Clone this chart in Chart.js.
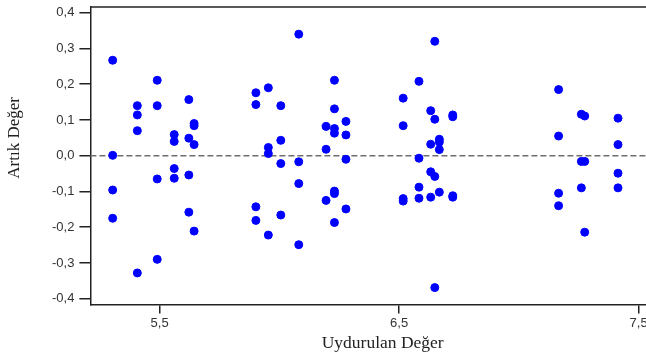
<!DOCTYPE html>
<html>
<head>
<meta charset="utf-8">
<script src="https://cdn.jsdelivr.net/npm/chart.js@4"></script>
<style>
  html, body { margin: 0; padding: 0; background: #fff; overflow: hidden; }
  #wrap { width: 680px; height: 360px; }
</style>
</head>
<body>
<div id="wrap"><canvas id="grafik"></canvas></div>
<script>
// uydurulan degerler (x) ve artiklar (y), sutun sutun
const fitted = [
  5.304, 5.304, 5.304, 5.304,
  5.407, 5.407, 5.407, 5.407,
  5.490, 5.490, 5.490, 5.490,
  5.561, 5.561, 5.561, 5.561,
  5.622, 5.622, 5.622, 5.622,
  5.644, 5.644, 5.644, 5.644,
  5.902, 5.902, 5.902, 5.902,
  5.954, 5.954, 5.954, 5.954,
  6.006, 6.006, 6.006, 6.006,
  6.081, 6.081, 6.081, 6.081,
  6.195, 6.195, 6.195,
  6.230, 6.230, 6.230, 6.230, 6.230, 6.230, 6.230,
  6.278, 6.278, 6.278, 6.278,
  6.517, 6.517, 6.517, 6.517,
  6.583, 6.583, 6.583, 6.583,
  6.632, 6.632, 6.632, 6.632,
  6.649, 6.649, 6.649, 6.649,
  6.668, 6.668, 6.668, 6.668,
  6.724, 6.724, 6.724, 6.724,
  7.166, 7.166, 7.166, 7.166,
  7.261, 7.261, 7.261,
  7.275, 7.275, 7.275,
  7.414, 7.414, 7.414, 7.414
]
const residuals = [
  0.267, 0.001, -0.096, -0.175,
  0.140, 0.114, 0.070, -0.328,
  0.211, 0.140, -0.065, -0.290,
  0.059, 0.040, -0.036, -0.063,
  0.157, 0.049, -0.054, -0.158,
  0.090, 0.084, 0.031, -0.211,
  0.176, 0.143, -0.143, -0.181,
  0.190, 0.023, 0.006, -0.222,
  0.140, 0.043, -0.022, -0.166,
  0.340, -0.017, -0.078, -0.249,
  0.082, 0.018, -0.125,
  0.211, 0.131, 0.076, 0.063, -0.099, -0.106, -0.187,
  0.096, 0.058, -0.010, -0.149,
  0.161, 0.084, -0.120, -0.127,
  0.208, -0.007, -0.088, -0.119,
  0.126, 0.032, -0.045, -0.116,
  0.320, 0.102, -0.058, -0.369,
  0.046, 0.038, 0.017, -0.102,
  0.114, 0.109, -0.112, -0.116,
  0.185, 0.055, -0.105, -0.140,
  0.116, -0.016, -0.090,
  0.111, -0.016, -0.214,
  0.105, 0.031, -0.049, -0.090
]
const xTicks = [5.5, 6.5, 7.5]
const yTicks = [-0.4, -0.3, -0.2, -0.1, 0, 0.1, 0.2, 0.3, 0.4]
const yBaslik = 'Artık Değer'
const xBaslik = 'Uydurulan Değer'

const virgul = v => v.toFixed(1).replace('.', ',')

// sifir cizgisi, ust kenar ve dikey eksen basligi
const ekstra = {
  id: 'ekstra',
  beforeDatasetsDraw(chart) {
    const { ctx, chartArea, scales } = chart
    const y0 = scales.y.getPixelForValue(0)
    ctx.save()
    ctx.strokeStyle = '#6e6e6e'
    ctx.lineWidth = 1.5
    ctx.setLineDash([6, 3])
    ctx.beginPath()
    ctx.moveTo(chartArea.left, y0)
    ctx.lineTo(chartArea.right, y0)
    ctx.stroke()
    ctx.setLineDash([])
    ctx.strokeStyle = '#222'
    ctx.beginPath()
    ctx.moveTo(chartArea.left, chartArea.top)
    ctx.lineTo(chartArea.right, chartArea.top)
    ctx.stroke()
    // baslik biraz yukarida duruyor
    ctx.translate(15, scales.y.getPixelForValue(0.05))
    ctx.rotate(-Math.PI / 2)
    ctx.fillStyle = '#222'
    ctx.font = '17px "Liberation Serif"'
    ctx.textAlign = 'center'
    ctx.textBaseline = 'middle'
    ctx.fillText(yBaslik, 0, 0)
    ctx.restore()
  }
}

new Chart('grafik', {
  type: 'scatter',
  data: {
    datasets: [{
      data: fitted.map((x, i) => ({ x: x, y: residuals[i] })),
      backgroundColor: '#0000ff',
      borderColor: '#0000ff',
      pointRadius: 4,
      pointHoverRadius: 4
    }]
  },
  options: {
    animation: false,
    responsive: true,
    maintainAspectRatio: false,
    layout: { padding: { top: 7, right: 0, bottom: 6, left: 47 } },
    plugins: { legend: { display: false }, tooltip: { enabled: false } },
    scales: {
      x: {
        type: 'linear',
        min: 5.211,
        max: 7.652,
        afterBuildTicks: s => { s.ticks = xTicks.map(v => ({ value: v })) },
        grid: { drawOnChartArea: false, tickLength: 9, tickColor: '#222', lineWidth: 1.5 },
        border: { color: '#222', width: 1.5 },
        ticks: {
          color: '#333',
          font: { family: 'Liberation Sans', size: 13 },
          padding: 2,
          callback: v => virgul(v)
        },
        title: {
          display: true,
          text: xBaslik,
          color: '#222',
          font: { family: 'Liberation Serif', size: 17.5 },
          padding: { top: 0, bottom: 0 }
        }
      },
      y: {
        min: -0.416,
        max: 0.416,
        afterBuildTicks: s => { s.ticks = yTicks.map(v => ({ value: v })) },
        afterFit: s => { s.paddingTop = 0; s.paddingBottom = 0 },
        grid: { drawOnChartArea: false, tickLength: 11, tickColor: '#222', lineWidth: 1.5 },
        border: { color: '#222', width: 1.5 },
        ticks: {
          color: '#333',
          font: { family: 'Liberation Sans', size: 13 },
          padding: 5,
          callback: v => virgul(v)
        }
      }
    }
  },
  plugins: [ekstra]
})
</script>
</body>
</html>
